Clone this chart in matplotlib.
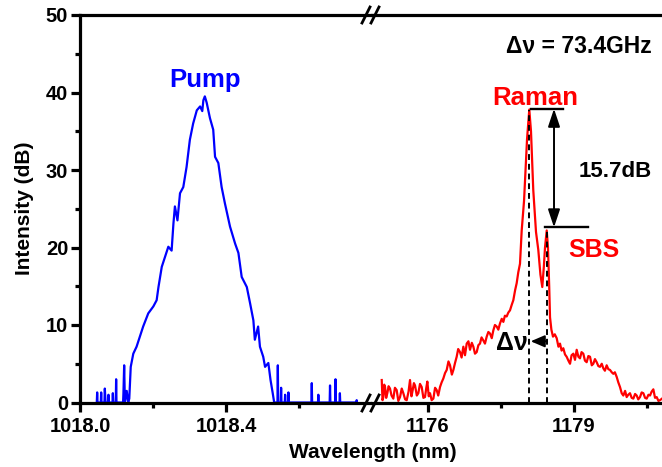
import matplotlib
matplotlib.use("Agg")
import matplotlib.pyplot as plt
from matplotlib.lines import Line2D

plt.rcParams['font.family'] = ['Liberation Sans', 'DejaVu Sans']
plt.rcParams['font.weight'] = 'bold'

# ---------------- data ----------------
pump_wl = [1018.046, 1018.047, 1018.048, 1018.057, 1018.058, 1018.059,
           1018.067, 1018.068, 1018.070, 1018.077, 1018.078, 1018.079,
           1018.089, 1018.090, 1018.091, 1018.098, 1018.099, 1018.100,
           1018.118, 1018.119, 1018.121, 1018.123, 1018.128, 1018.132,
           1018.135, 1018.139, 1018.146, 1018.155, 1018.164, 1018.173,
           1018.187, 1018.201, 1018.210, 1018.215, 1018.224, 1018.233,
           1018.242, 1018.251, 1018.256, 1018.260, 1018.267, 1018.274,
           1018.283, 1018.292, 1018.301, 1018.310, 1018.320, 1018.329,
           1018.335, 1018.338, 1018.342, 1018.347, 1018.356, 1018.365,
           1018.370, 1018.379, 1018.388, 1018.397, 1018.411, 1018.425,
           1018.434, 1018.443, 1018.457, 1018.466, 1018.475, 1018.479,
           1018.488, 1018.493, 1018.502, 1018.507, 1018.516, 1018.522,
           1018.528, 1018.532, 1018.541, 1018.542, 1018.543, 1018.550,
           1018.551, 1018.552, 1018.561, 1018.562, 1018.563, 1018.570,
           1018.571, 1018.572, 1018.579, 1018.580, 1018.581, 1018.634,
           1018.635, 1018.636, 1018.652, 1018.653, 1018.654, 1018.684,
           1018.685, 1018.686, 1018.699, 1018.700, 1018.701, 1018.711,
           1018.712, 1018.713, 1018.757, 1018.758, 1018.759]
pump_db = [0.0, 1.3, 0.0, 0.0, 1.3, 0.0,
           0.0, 1.8, 0.0, 0.0, 1.0, 0.0,
           0.0, 1.2, 0.0, 0.0, 3.0, 0.0,
           0.0, 1.2, 4.8, 0.0, 1.5, 0.0,
           0.5, 4.6, 6.3, 7.2, 8.5, 9.8,
           11.5, 12.4, 13.2, 14.9, 17.5, 18.8,
           20.1, 19.6, 23.1, 25.3, 23.5, 27.0,
           27.8, 30.4, 33.9, 36.0, 37.7, 38.2,
           37.6, 39.0, 39.5, 38.7, 36.7, 35.2,
           31.7, 30.9, 27.8, 25.7, 22.7, 20.5,
           19.3, 16.2, 14.9, 12.8, 10.6, 8.1,
           9.8, 7.2, 5.9, 4.6, 5.1, 2.9,
           1.2, 0.0, 0.0, 4.8, 0.0, 0.0,
           1.9, 0.0, 0.0, 1.0, 0.0, 0.0,
           1.3, 0.0, 0.0, 0.0, 0.0, 0.0,
           2.5, 0.0, 0.0, 1.0, 0.0, 0.0,
           2.2, 0.0, 0.0, 3.0, 0.0, 0.0,
           1.2, 0.0, 0.0, 0.3, 0.0]

raman_wl = [1175.049, 1175.065, 1175.082, 1175.100, 1175.117, 1175.140,
            1175.164, 1175.190, 1175.219, 1175.250, 1175.287, 1175.320,
            1175.356, 1175.390, 1175.425, 1175.460, 1175.493, 1175.530,
            1175.562, 1175.600, 1175.630, 1175.660, 1175.685, 1175.710,
            1175.733, 1175.770, 1175.801, 1175.835, 1175.870, 1175.905,
            1175.938, 1175.965, 1175.986, 1176.015, 1176.041, 1176.075,
            1176.110, 1176.145, 1176.178, 1176.210, 1176.247, 1176.280,
            1176.315, 1176.350, 1176.384, 1176.420, 1176.452, 1176.490,
            1176.521, 1176.555, 1176.589, 1176.620, 1176.658, 1176.690,
            1176.726, 1176.760, 1176.795, 1176.830, 1176.863, 1176.900,
            1176.932, 1176.965, 1177.000, 1177.035, 1177.068, 1177.100,
            1177.137, 1177.170, 1177.206, 1177.240, 1177.274, 1177.310,
            1177.342, 1177.375, 1177.411, 1177.445, 1177.479, 1177.515,
            1177.548, 1177.580, 1177.616, 1177.650, 1177.685, 1177.720,
            1177.753, 1177.790, 1177.822, 1177.855, 1177.890, 1177.925,
            1177.973, 1178.035, 1178.081, 1178.116, 1178.163, 1178.219,
            1178.266, 1178.310, 1178.348, 1178.380, 1178.404, 1178.439,
            1178.465, 1178.490, 1178.507, 1178.535, 1178.568, 1178.605,
            1178.644, 1178.680, 1178.712, 1178.745, 1178.780, 1178.815,
            1178.849, 1178.885, 1178.918, 1178.950, 1178.986, 1179.020,
            1179.055, 1179.090, 1179.123, 1179.155, 1179.191, 1179.225,
            1179.260, 1179.295, 1179.329, 1179.365, 1179.397, 1179.430,
            1179.466, 1179.500, 1179.534, 1179.570, 1179.603, 1179.635,
            1179.671, 1179.705, 1179.740, 1179.775, 1179.808, 1179.840,
            1179.877, 1179.910, 1179.945, 1179.980, 1180.013, 1180.050,
            1180.082, 1180.115, 1180.150, 1180.185, 1180.219, 1180.255,
            1180.288, 1180.320, 1180.356, 1180.390, 1180.425, 1180.460,
            1180.493, 1180.530, 1180.562, 1180.595, 1180.630, 1180.665,
            1180.699, 1180.735, 1180.767, 1180.808]
raman_db = [2.9, 0.3, 0.7, 2.3, 2.0, 0.6,
            1.2, 2.1, 1.8, 0.9, 0.5, 1.9,
            1.6, 0.2, 0.7, 1.8, 1.2, 0.4,
            0.3, 1.4, 2.9, 0.8, 1.6, 2.5,
            2.2, 0.9, 1.2, 2.4, 2.0, 0.6,
            0.7, 1.9, 2.7, 0.8, 1.2, 0.3,
            0.5, 1.9, 1.6, 0.9, 2.0, 2.6,
            3.1, 3.8, 4.2, 5.3, 4.8, 3.6,
            4.2, 5.1, 5.9, 6.9, 6.5, 5.8,
            7.2, 6.1, 7.6, 7.9, 6.8, 7.7,
            7.2, 6.3, 6.5, 7.4, 7.6, 8.4,
            8.0, 7.6, 8.5, 9.1, 8.9, 8.3,
            9.3, 10.0, 9.8, 9.4, 10.2, 10.8,
            10.4, 11.2, 11.1, 11.6, 11.9, 12.6,
            13.2, 14.5, 15.4, 16.8, 17.9, 22.2,
            26.0, 34.0, 37.8, 35.0, 27.4, 22.0,
            19.7, 16.5, 14.9, 17.5, 20.0, 22.2,
            20.0, 15.0, 11.0, 9.4, 8.5, 8.8,
            8.3, 7.2, 7.6, 6.7, 7.0, 6.2,
            5.9, 5.4, 5.0, 6.1, 6.3, 5.5,
            6.8, 5.9, 5.7, 6.5, 6.3, 5.4,
            5.2, 6.0, 5.9, 4.8, 5.0, 5.6,
            5.2, 4.7, 4.6, 5.0, 4.4, 4.1,
            4.8, 4.3, 4.2, 3.9, 3.7, 3.9,
            3.3, 2.6, 2.0, 1.2, 0.9, 1.5,
            0.7, 1.0, 1.2, 0.6, 0.5, 1.1,
            0.9, 0.4, 0.7, 1.3, 1.2, 0.6,
            0.5, 1.0, 0.9, 1.4, 1.7, 0.6,
            0.7, 0.2, 0.3, 0.5]

y_ticks = [0, 10, 20, 30, 40, 50]
x_ticks_left = [1018.0, 1018.4]
x_ticks_right = [1176, 1179]
x_labels_left = ['1018.0', '1018.4']
x_labels_right = ['1176', '1179']

raman_peak = (1178.085, 37.8)
sbs_peak = (1178.439, 22.2)

# ---------------- figure ----------------
W, H = 662, 467
fig = plt.figure(figsize=(W / 100, H / 100), dpi=100)

def fx(px):
    return px / W

def fy(py):
    return 1 - py / H

y_top_px, y_bot_px = 15, 402.5
x_left_px, x_break_px, x_right_px = 80, 372, 662
bottom = fy(y_bot_px)
height = fy(y_top_px) - bottom

ax1 = fig.add_axes([fx(x_left_px), bottom, fx(x_break_px - x_left_px), height])
ax2 = fig.add_axes([fx(x_break_px), bottom, fx(x_right_px - x_break_px), height])

ax1.plot(pump_wl, pump_db, color='#0000ff', lw=1.6)
ax2.plot(raman_wl, raman_db, color='#ff0000', lw=1.6)

ax1.set_xlim(1018.0, 1018.8)
ax2.set_xlim(1174.849, 1180.808)
for ax in (ax1, ax2):
    ax.set_ylim(0, 50)
    for s in ax.spines.values():
        s.set_linewidth(2.3)
    ax.tick_params(which='major', direction='out', length=6.5, width=2.3,
                   labelsize=14.5, pad=4)
    ax.tick_params(which='minor', direction='out', length=3.5, width=2.3)

ax1.spines['right'].set_visible(False)
ax2.spines['left'].set_visible(False)
ax2.spines['right'].set_visible(False)

ax1.set_yticks(y_ticks)
ax1.set_yticklabels([str(v) for v in y_ticks], fontweight='bold')
ax1.set_yticks([5, 15, 25, 35, 45], minor=True)
ax1.tick_params(axis='y', pad=2)
ax2.set_yticks([])
ax2.tick_params(axis='y', which='both', left=False)

ax1.set_xticks(x_ticks_left)
ax1.set_xticklabels(x_labels_left, fontweight='bold')
ax1.set_xticks([1018.2, 1018.6], minor=True)
ax2.set_xticks(x_ticks_right)
ax2.set_xticklabels(x_labels_right, fontweight='bold')
ax2.set_xticks([1177.5, 1180.5], minor=True)

# break marks
for cx in (366, 375):
    for cy in (403, 15):
        fig.add_artist(Line2D([fx(cx - 4), fx(cx + 4)], [fy(cy + 8), fy(cy - 8)],
                              color='black', lw=2.0))

# axis labels
fig.text(fx(373), fy(453), 'Wavelength (nm)', ha='center', va='center',
         fontsize=15, fontweight='bold')
fig.text(fx(24), fy(208.75), 'Intensity (dB)', ha='center', va='center',
         rotation=90, fontsize=15, fontweight='bold')

# annotations
ax1.text(1018.342, 40.7, 'Pump', color='#0000ff', fontsize=18.5,
         fontweight='bold', ha='center', va='baseline')
ax2.text(1178.2, 38.4, 'Raman', color='#ff0000', fontsize=18.5,
         fontweight='bold', ha='center', va='baseline')
ax2.text(1179.41, 18.8, 'SBS', color='#ff0000', fontsize=18,
         fontweight='bold', ha='center', va='baseline')
ax2.text(1179.85, 29.1, '15.7dB', color='black', fontsize=16,
         fontweight='bold', ha='center', va='baseline')
ax2.text(1179.1, 45.1, 'Δν = 73.4GHz', color='black', fontsize=16.5,
         fontweight='bold', ha='center', va='baseline')
ax2.text(1177.73, 7.7, 'Δν', color='black', fontsize=18,
         fontweight='bold', ha='center', va='center')

# dashed lines
ax2.plot([raman_peak[0], raman_peak[0]], [0, raman_peak[1]], color='black',
         lw=1.4, ls=(0, (3, 2)))
ax2.plot([sbs_peak[0], sbs_peak[0]], [0, sbs_peak[1]], color='black',
         lw=1.4, ls=(0, (3, 2)))

# horizontal reference lines
ax2.plot([1178.12, 1178.774], [37.9, 37.9], color='black', lw=1.7)
ax2.plot([1178.404, 1179.294], [22.6, 22.6], color='black', lw=1.7)

# vertical double arrow
ax2.annotate('', xy=(1178.589, 22.6), xytext=(1178.589, 37.9),
             arrowprops=dict(arrowstyle='<|-|>,head_length=0.9,head_width=0.3',
                             lw=1.4, color='black', shrinkA=0, shrinkB=0,
                             mutation_scale=12))
# small delta-nu arrow
ax2.annotate('', xy=(1178.11, 7.9), xytext=(1178.439, 7.9),
             arrowprops=dict(arrowstyle='-|>,head_length=0.7,head_width=0.3',
                             lw=1.4, color='black', shrinkA=0, shrinkB=0,
                             mutation_scale=12))

fig.savefig('out.png', dpi=100)
